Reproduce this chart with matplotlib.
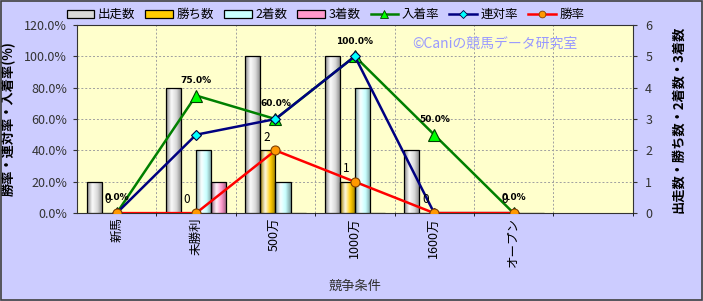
import numpy as np
import matplotlib
matplotlib.use("Agg")
import matplotlib.pyplot as plt
from matplotlib.colors import LinearSegmentedColormap, to_rgb
from matplotlib.lines import Line2D
from matplotlib.patches import Patch, Rectangle

plt.rcParams['font.family'] = ['Noto Sans CJK JP', 'DejaVu Sans']

# ---- data ----
categories = ['新馬', '未勝利', '500万', '1000万', '1600万', 'オープン', '']
runs = [1, 4, 5, 5, 2, 0]          # 出走数
wins = [0, 0, 2, 1, 0, 0]          # 勝ち数
seconds = [0, 2, 1, 4, 0, 0]       # 2着数
thirds = [0, 1, 0, 0, 0, 0]        # 3着数
place_rate = [0.0, 75.0, 60.0, 100.0, 50.0, 0.0]     # 入着率
quinella_rate = [0.0, 50.0, 60.0, 100.0, 0.0, 0.0]   # 連対率
win_rate = [0.0, 0.0, 40.0, 20.0, 0.0, 0.0]          # 勝率

bar_series = [("出走数", runs, "#d8d8d8"),
              ("勝ち数", wins, "#ffcc00"),
              ("2着数", seconds, "#c8ffff"),
              ("3着数", thirds, "#ff99cc")]

FIG_BG = "#ccccff"
PLOT_BG = "#ffffcc"


def shade(c, f):
    r, g, b = to_rgb(c)
    return (r * f, g * f, b * f)


def tint(c, f):
    r, g, b = to_rgb(c)
    return (r + (1 - r) * f, g + (1 - g) * f, b + (1 - b) * f)


def gradient_bars(ax, bars, color):
    cmap = LinearSegmentedColormap.from_list(
        "cyl", [shade(color, 0.62), tint(color, 0.9), color, shade(color, 0.6)])
    grad = np.linspace(0, 1, 64).reshape(1, -1)
    for b in bars:
        x, y = b.get_x(), b.get_y()
        w, h = b.get_width(), b.get_height()
        if h <= 0:
            continue
        im = ax.imshow(grad, cmap=cmap, aspect="auto", extent=(x, x + w, y, y + h),
                       zorder=b.get_zorder() - 0.1, interpolation="bicubic")
        im.set_clip_path(b)


fig = plt.figure(figsize=(7.03, 3.01), dpi=100, facecolor=FIG_BG)
fig.patches.append(Rectangle((0.001, 0.002), 0.997, 0.995, transform=fig.transFigure,
                             fill=False, edgecolor="#404040", linewidth=1.2))

# counts on the right axis (behind), rates on the left axis (on top)
ax2 = fig.add_axes([0.1095, 0.292, 0.7905, 0.625])
ax = fig.add_axes(ax2.get_position(), sharex=ax2)
ax.patch.set_visible(False)

ax2.set_facecolor(PLOT_BG)
ax2.yaxis.tick_right()
ax2.yaxis.set_label_position("right")

x = np.arange(len(runs))
w = 0.19
for i, (name, vals, col) in enumerate(bar_series):
    bars = ax2.bar(x + (i - 1.5) * w, vals, width=w, facecolor="none",
                   edgecolor="black", linewidth=0.9, zorder=3)
    gradient_bars(ax2, bars, col)

ax2.set_xlim(-0.5, len(categories) - 0.5)
ax2.set_ylim(0, 6)
ax2.set_yticks(range(0, 7))
ax2.set_axisbelow(True)
ax2.set_xticks(np.arange(len(categories)) + 0.5, minor=True)
ax2.grid(True, which="minor", axis="x", color="#a0a0a0", linestyle=(0, (2, 2)), linewidth=0.7)
ax2.grid(True, which="major", axis="y", color="#a0a0a0", linestyle=(0, (2, 2)), linewidth=0.7)
ax2.tick_params(axis="x", which="both", length=0, labelbottom=False)
ax2.tick_params(axis="y", labelsize=9, length=3, colors="#333333", pad=6)

lines = [("入着率", place_rate, "#008000", "^", "#00ff00", 8, "#004000"),
         ("連対率", quinella_rate, "#000080", "D", "#00ffff", 5, "#000040"),
         ("勝率", win_rate, "#ff0000", "o", "#ff9900", 6.5, "#804000")]
for name, vals, col, mk, mfc, ms, mec in lines:
    ax.plot(x, vals, color=col, linewidth=1.8, marker=mk, markersize=ms,
            markerfacecolor=mfc, markeredgecolor=mec, markeredgewidth=0.8, zorder=5)

ax.set_ylim(0, 120)
ax.set_yticks(range(0, 121, 20))
ax.set_yticklabels([f"{v:.1f}%" for v in range(0, 121, 20)])
ax.set_xticks(np.arange(len(categories)))
ax.set_xticklabels(categories, rotation=90, va="top", ha="center")
ax.tick_params(axis="x", length=0, labelsize=9, pad=3)
ax.tick_params(axis="y", labelsize=9, length=3, colors="#333333", pad=4)
for sp in ax.spines.values():
    sp.set_visible(False)
for sp in ax2.spines.values():
    sp.set_color("#333333")

# data labels: 入着率 above the green points, 勝ち数 next to the red points
for i, v in enumerate(place_rate):
    ax.annotate(f"{v:.1f}%", (x[i], v), xytext=(0, 11), textcoords="offset points",
                ha="center", va="center", fontsize=6.5, fontweight="bold",
                family=["DejaVu Sans"], zorder=6)
for i, v in enumerate(wins):
    ax.annotate(f"{v}", (x[i], win_rate[i]), xytext=(-6.5, 9.5), textcoords="offset points",
                ha="center", va="center", fontsize=8.5, zorder=6)

ax.set_ylabel("勝率・連対率・入着率(%)", fontsize=9.5, fontweight="bold", labelpad=6)
ax2.set_ylabel("出走数・勝ち数・2着数・3着数", fontsize=9.5, fontweight="bold",
               rotation=90, labelpad=14)
ax.set_xlabel("競争条件", fontsize=9.5, color="#333333", labelpad=9)

ax.text(0.752, 0.9, "©Caniの競馬データ研究室", transform=ax.transAxes, ha="center",
        va="center", fontsize=10, color="#9999ff", zorder=6)

handles = [Patch(facecolor=col, edgecolor="black", linewidth=0.9) for _, _, col in bar_series]
handles += [Line2D([0], [0], color=col, linewidth=1.8, marker=mk, markersize=ms * 0.75,
                   markerfacecolor=mfc, markeredgecolor=mec, markeredgewidth=0.6)
            for _, _, col, mk, mfc, ms, mec in lines]
labels = [s[0] for s in bar_series] + [l[0] for l in lines]
fig.legend(handles, labels, loc="center", bbox_to_anchor=(0.463, 0.952), ncol=7,
           frameon=False, fontsize=9, handlelength=2.2, handleheight=0.6,
           columnspacing=0.8, handletextpad=0.3)

fig.savefig("out.png", dpi=100, facecolor=FIG_BG)
